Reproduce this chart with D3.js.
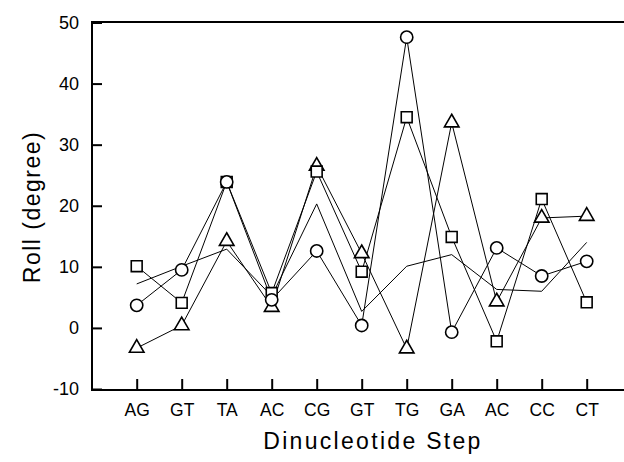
<!DOCTYPE html>
<html>
<head>
<meta charset="utf-8">
<script src="https://cdn.jsdelivr.net/npm/d3@7"></script>
<style>
  body { margin: 0; background: #fff; }
  svg { display: block; font-family: "Liberation Sans", Arial, sans-serif; }
  .axis path, .axis line { stroke: #000; stroke-width: 2; }
  .axis text { fill: #000; }
</style>
</head>
<body>
<div id="chart"></div>
<script>
// dinucleotide steps along the x axis
var steps = ["AG", "GT", "TA", "AC", "CG", "GT", "TG", "GA", "AC", "CC", "CT"];
var yTicks = [-10, 0, 10, 20, 30, 40, 50];

// roll angles
var circleVals   = [3.7, 9.5, 23.9, 4.6, 12.6, 0.4, 47.6, -0.7, 13.1, 8.5, 10.9];
var squareVals   = [10.1, 4.1, 23.9, 5.7, 25.6, 9.2, 34.5, 14.9, -2.2, 21.1, 4.2];
var triangleVals = [-3.3, 0.4, 14.2, 3.4, 26.5, 12.2, -3.4, 33.6, 4.3, 18.0, 18.3];
var plainVals    = [7.2, 10.1, 12.9, 5.2, 20.3, 2.7, 10.1, 12.0, 6.3, 6.0, 14.0];

var W = 624, H = 462;
var m = { left: 92, top: 22, right: 624, bottom: 390 };

var svg = d3.select("#chart").append("svg")
    .attr("width", W)
    .attr("height", H);

var x = d3.scalePoint()
    .domain(d3.range(steps.length))
    .range([136.7, 586.7]);

var y = d3.scaleLinear()
    .domain([-10, 50])
    .range([m.bottom - 1, m.top + 0.5]);

// frame: top line only, no right border
svg.append("line")
    .attr("x1", m.left - 1).attr("x2", m.right)
    .attr("y1", m.top).attr("y2", m.top)
    .attr("stroke", "#000").attr("stroke-width", 2);

svg.append("g")
    .attr("class", "axis")
    .attr("transform", "translate(" + m.left + ",0)")
    .call(d3.axisLeft(y).tickValues(yTicks).tickFormat(function(d) { return String(d); })
        .tickSizeInner(-10).tickSizeOuter(0).tickPadding(13))
    .call(function(g) {
        g.select(".domain").attr("d", "M0," + (m.top - 1) + "V" + (m.bottom + 1));
        g.selectAll("text").attr("font-size", 18);
    });

svg.append("g")
    .attr("class", "axis")
    .attr("transform", "translate(0," + m.bottom + ")")
    .call(d3.axisBottom(x).tickFormat(function(i) { return steps[i]; })
        .tickSizeInner(-11).tickSizeOuter(0).tickPadding(14))
    .call(function(g) {
        g.select(".domain").attr("d", "M" + (m.left - 1) + ",0H" + m.right);
        g.selectAll("text").attr("font-size", 17.5);
    });

// axis titles
svg.append("text")
    .attr("transform", "translate(40,207) rotate(-90)")
    .attr("text-anchor", "middle")
    .attr("font-size", 23)
    .attr("letter-spacing", 1.5)
    .text("Roll (degree)");

svg.append("text")
    .attr("x", 373)
    .attr("y", 449)
    .attr("text-anchor", "middle")
    .attr("font-size", 23)
    .attr("letter-spacing", 2.3)
    .text("Dinucleotide Step");

var line = d3.line()
    .x(function(d, i) { return x(i); })
    .y(function(d) { return y(d); });

var series = [
    { vals: plainVals, mark: null },
    { vals: triangleVals, mark: "triangle" },
    { vals: squareVals, mark: "square" },
    { vals: circleVals, mark: "circle" }
];

svg.selectAll(".series-line")
    .data(series)
    .enter().append("path")
    .attr("class", "series-line")
    .attr("d", function(s) { return line(s.vals); })
    .attr("fill", "none")
    .attr("stroke", "#000")
    .attr("stroke-width", 1);

var shapes = {
    circle: d3.symbol().type(d3.symbolCircle).size(118),
    square: d3.symbol().type(d3.symbolSquare).size(118),
    triangle: d3.symbol().type(d3.symbolTriangle).size(92)
};

series.filter(function(s) { return s.mark; }).forEach(function(s) {
    svg.append("g").selectAll("path")
        .data(s.vals)
        .enter().append("path")
        .attr("transform", function(d, i) { return "translate(" + x(i) + "," + y(d) + ")"; })
        .attr("d", shapes[s.mark])
        .attr("fill", "#fff")
        .attr("stroke", "#000")
        .attr("stroke-width", 1.6);
});
</script>
</body>
</html>
